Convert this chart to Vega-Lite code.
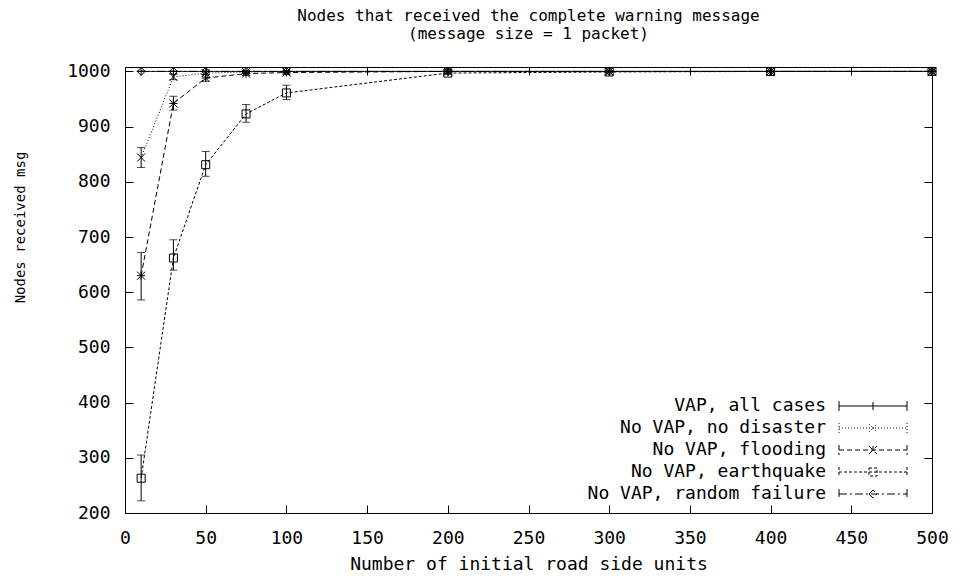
{
  "$schema": "https://vega.github.io/schema/vega-lite/v6.json",
  "width": 807,
  "height": 446,
  "autosize": "none",
  "padding": {"left": 125, "top": 67, "right": 28, "bottom": 65},
  "background": "white",
  "config": {
    "view": {"stroke": "black", "strokeWidth": 1},
    "font": "DejaVu Sans Mono",
    "axis": {"grid": false, "domain": false, "labelFont": "DejaVu Sans Mono", "labelFontSize": 18, "labelColor": "black", "tickColor": "black", "tickSize": -8, "labelFlush": false, "titleFont": "DejaVu Sans Mono", "titleFontWeight": "normal", "titleColor": "black"}
  },
  "title": {
    "text": ["Nodes that received the complete warning message", "(message size = 1 packet)"],
    "font": "DejaVu Sans Mono",
    "fontSize": 16,
    "fontWeight": "normal",
    "color": "black",
    "lineHeight": 18,
    "offset": 20,
    "anchor": "middle"
  },
  "resolve": {"scale": {"shape": "independent", "strokeDash": "independent"}},
  "data": {
    "values": [
      {"series": "VAP, all cases", "x": 10, "y": 1000, "lo": 1000, "hi": 1000},
      {"series": "VAP, all cases", "x": 30, "y": 1000, "lo": 1000, "hi": 1000},
      {"series": "VAP, all cases", "x": 50, "y": 1000, "lo": 1000, "hi": 1000},
      {"series": "VAP, all cases", "x": 75, "y": 1000, "lo": 1000, "hi": 1000},
      {"series": "VAP, all cases", "x": 100, "y": 1000, "lo": 1000, "hi": 1000},
      {"series": "VAP, all cases", "x": 200, "y": 1000, "lo": 1000, "hi": 1000},
      {"series": "VAP, all cases", "x": 300, "y": 1000, "lo": 1000, "hi": 1000},
      {"series": "VAP, all cases", "x": 400, "y": 1000, "lo": 1000, "hi": 1000},
      {"series": "VAP, all cases", "x": 500, "y": 1000, "lo": 1000, "hi": 1000},
      {"series": "No VAP, no disaster", "x": 10, "y": 844, "lo": 826, "hi": 862},
      {"series": "No VAP, no disaster", "x": 30, "y": 990, "lo": 985, "hi": 995},
      {"series": "No VAP, no disaster", "x": 50, "y": 997, "lo": 995, "hi": 999},
      {"series": "No VAP, no disaster", "x": 75, "y": 999, "lo": 998, "hi": 1000},
      {"series": "No VAP, no disaster", "x": 100, "y": 1000, "lo": 1000, "hi": 1000},
      {"series": "No VAP, no disaster", "x": 200, "y": 1000, "lo": 1000, "hi": 1000},
      {"series": "No VAP, no disaster", "x": 300, "y": 1000, "lo": 1000, "hi": 1000},
      {"series": "No VAP, no disaster", "x": 400, "y": 1000, "lo": 1000, "hi": 1000},
      {"series": "No VAP, no disaster", "x": 500, "y": 1000, "lo": 1000, "hi": 1000},
      {"series": "No VAP, flooding", "x": 10, "y": 630, "lo": 586, "hi": 672},
      {"series": "No VAP, flooding", "x": 30, "y": 942, "lo": 930, "hi": 955},
      {"series": "No VAP, flooding", "x": 50, "y": 988, "lo": 982, "hi": 994},
      {"series": "No VAP, flooding", "x": 75, "y": 996, "lo": 993, "hi": 999},
      {"series": "No VAP, flooding", "x": 100, "y": 998, "lo": 996, "hi": 1000},
      {"series": "No VAP, flooding", "x": 200, "y": 1000, "lo": 1000, "hi": 1000},
      {"series": "No VAP, flooding", "x": 300, "y": 1000, "lo": 1000, "hi": 1000},
      {"series": "No VAP, flooding", "x": 400, "y": 1000, "lo": 1000, "hi": 1000},
      {"series": "No VAP, flooding", "x": 500, "y": 1000, "lo": 1000, "hi": 1000},
      {"series": "No VAP, earthquake", "x": 10, "y": 263, "lo": 222, "hi": 305},
      {"series": "No VAP, earthquake", "x": 30, "y": 662, "lo": 640, "hi": 695},
      {"series": "No VAP, earthquake", "x": 50, "y": 831, "lo": 810, "hi": 855},
      {"series": "No VAP, earthquake", "x": 75, "y": 923, "lo": 908, "hi": 940},
      {"series": "No VAP, earthquake", "x": 100, "y": 961, "lo": 949, "hi": 975},
      {"series": "No VAP, earthquake", "x": 200, "y": 997, "lo": 995, "hi": 999},
      {"series": "No VAP, earthquake", "x": 300, "y": 999, "lo": 998, "hi": 1000},
      {"series": "No VAP, earthquake", "x": 400, "y": 1000, "lo": 1000, "hi": 1000},
      {"series": "No VAP, earthquake", "x": 500, "y": 1000, "lo": 1000, "hi": 1000},
      {"series": "No VAP, random failure", "x": 10, "y": 1000, "lo": 1000, "hi": 1000},
      {"series": "No VAP, random failure", "x": 30, "y": 1000, "lo": 1000, "hi": 1000},
      {"series": "No VAP, random failure", "x": 50, "y": 1000, "lo": 1000, "hi": 1000},
      {"series": "No VAP, random failure", "x": 75, "y": 1000, "lo": 1000, "hi": 1000},
      {"series": "No VAP, random failure", "x": 100, "y": 1000, "lo": 1000, "hi": 1000},
      {"series": "No VAP, random failure", "x": 200, "y": 1000, "lo": 1000, "hi": 1000},
      {"series": "No VAP, random failure", "x": 300, "y": 1000, "lo": 1000, "hi": 1000},
      {"series": "No VAP, random failure", "x": 400, "y": 1000, "lo": 1000, "hi": 1000},
      {"series": "No VAP, random failure", "x": 500, "y": 1000, "lo": 1000, "hi": 1000}
    ]
  },
  "layer": [
    {
      "mark": {"type": "rule", "color": "black", "strokeWidth": 1},
      "encoding": {
        "x": {"field": "x", "type": "quantitative", "scale": {"domain": [0, 500], "nice": false}, "axis": {"orient": "bottom", "values": [0, 50, 100, 150, 200, 250, 300, 350, 400, 450, 500], "title": "Number of initial road side units", "titleFontSize": 18, "labelPadding": 24, "titlePadding": 8}},
        "y": {"field": "lo", "type": "quantitative", "scale": {"domain": [200, 1008], "nice": false, "zero": false}, "axis": {"orient": "left", "values": [200, 300, 400, 500, 600, 700, 800, 900, 1000], "format": "d", "title": "Nodes received msg", "titleFontSize": 14, "titleAngle": 270, "titleX": -105, "titleY": 160, "titleAlign": "center", "titleBaseline": "middle", "labelPadding": 23}},
        "y2": {"field": "hi"}
      }
    },
    {
      "mark": {"type": "tick", "orient": "horizontal", "color": "black", "thickness": 1, "size": 8},
      "encoding": {
        "x": {"field": "x", "type": "quantitative", "axis": null},
        "y": {"field": "lo", "type": "quantitative", "axis": null}
      }
    },
    {
      "mark": {"type": "tick", "orient": "horizontal", "color": "black", "thickness": 1, "size": 8},
      "encoding": {
        "x": {"field": "x", "type": "quantitative", "axis": null},
        "y": {"field": "hi", "type": "quantitative", "axis": null}
      }
    },
    {
      "mark": {"type": "line", "color": "black", "strokeWidth": 1},
      "encoding": {
        "x": {"field": "x", "type": "quantitative", "axis": null},
        "y": {"field": "y", "type": "quantitative", "axis": null},
        "strokeDash": {
          "field": "series",
          "type": "nominal",
          "scale": {
            "domain": ["VAP, all cases", "No VAP, no disaster", "No VAP, flooding", "No VAP, earthquake", "No VAP, random failure"],
            "range": [[1, 0], [1, 2], [5, 3], [3, 2], [8, 3, 2, 3]]
          },
          "legend": null
        }
      }
    },
    {
      "mark": {"type": "point", "filled": false, "color": "black", "strokeWidth": 1, "size": 64, "opacity": 1},
      "encoding": {
        "x": {"field": "x", "type": "quantitative", "axis": {"orient": "top", "values": [0, 50, 100, 150, 200, 250, 300, 350, 400, 450, 500], "labels": false, "title": null}},
        "y": {"field": "y", "type": "quantitative", "axis": {"orient": "right", "values": [200, 300, 400, 500, 600, 700, 800, 900, 1000], "labels": false, "title": null}},
        "shape": {
          "field": "series",
          "type": "nominal",
          "scale": {
            "domain": ["VAP, all cases", "No VAP, no disaster", "No VAP, flooding", "No VAP, earthquake", "No VAP, random failure"],
            "range": ["M-1,0H1M0,-1V1", "M-1,-1L1,1M-1,1L1,-1", "M-1,0H1M0,-1V1M-1,-1L1,1M-1,1L1,-1", "M-1,-1H1V1H-1Z", "M-1,0L0,-1L1,0L0,1Z"]
          },
          "legend": null
        }
      }
    },
    {
      "transform": [{"filter": "datum.x < 0"}],
      "mark": {"type": "point", "filled": false, "color": "black", "strokeWidth": 1, "size": 100, "opacity": 1},
      "encoding": {
        "x": {"field": "x", "type": "quantitative", "axis": null},
        "y": {"field": "y", "type": "quantitative", "axis": null},
        "shape": {
          "field": "series",
          "type": "nominal",
          "scale": {
            "domain": ["VAP, all cases", "No VAP, no disaster", "No VAP, flooding", "No VAP, earthquake", "No VAP, random failure"],
            "range": [
              "M-6.8,0H6.8M-6.8,-1V1M6.8,-1V1M0,-0.8V0.8",
              "M-6.8,0H6.8M-6.8,-1V1M6.8,-1V1M-0.8,-0.8L0.8,0.8M-0.8,0.8L0.8,-0.8",
              "M-6.8,0H6.8M-6.8,-1V1M6.8,-1V1M0,-0.8V0.8M-0.8,-0.8L0.8,0.8M-0.8,0.8L0.8,-0.8",
              "M-6.8,0H6.8M-6.8,-1V1M6.8,-1V1M-0.8,-0.8H0.8V0.8H-0.8Z",
              "M-6.8,0H6.8M-6.8,-1V1M6.8,-1V1M-0.8,0L0,-0.8L0.8,0L0,0.8Z"
            ]
          },
          "legend": {
            "title": null,
            "orient": "none",
            "legendX": 739,
            "legendY": 330,
            "padding": 0,
            "symbolSize": 100,
            "symbolStrokeWidth": 1,
            "symbolStrokeColor": "black",
            "symbolFillColor": "transparent",
            "labelFont": "DejaVu Sans Mono",
            "labelFontSize": 18,
            "labelColor": "black",
            "labelAlign": "right",
            "labelOffset": -56,
            "labelLimit": 500,
            "rowPadding": 4
          }
        },
        "strokeDash": {
          "field": "series",
          "type": "nominal",
          "scale": {
            "domain": ["VAP, all cases", "No VAP, no disaster", "No VAP, flooding", "No VAP, earthquake", "No VAP, random failure"],
            "range": [[1, 0], [1, 2], [5, 3], [3, 2], [8, 3, 2, 3]]
          },
          "legend": {
            "title": null,
            "orient": "none",
            "legendX": 739,
            "legendY": 330,
            "padding": 0,
            "symbolSize": 100,
            "labelFont": "DejaVu Sans Mono",
            "labelFontSize": 18,
            "labelAlign": "right",
            "labelOffset": -56,
            "labelLimit": 500,
            "rowPadding": 4
          }
        }
      }
    }
  ]
}
